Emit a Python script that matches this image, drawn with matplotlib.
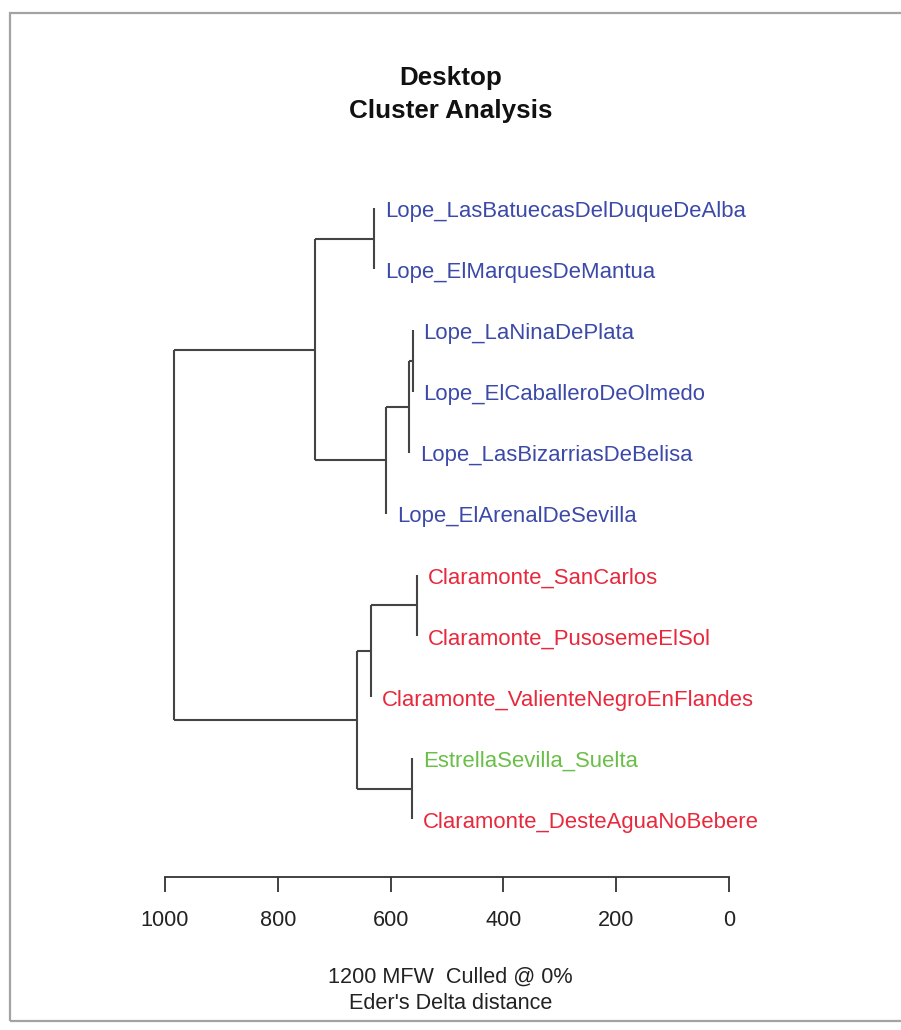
import matplotlib
matplotlib.use("Agg")
import matplotlib.pyplot as plt
from matplotlib.patches import Rectangle

plt.rcParams['font.family'] = ['Liberation Sans', 'DejaVu Sans']

# ---- data -------------------------------------------------------------
leaf_labels = [
    "Lope_LasBatuecasDelDuqueDeAlba",
    "Lope_ElMarquesDeMantua",
    "Lope_LaNinaDePlata",
    "Lope_ElCaballeroDeOlmedo",
    "Lope_LasBizarriasDeBelisa",
    "Lope_ElArenalDeSevilla",
    "Claramonte_SanCarlos",
    "Claramonte_PusosemeElSol",
    "Claramonte_ValienteNegroEnFlandes",
    "EstrellaSevilla_Suelta",
    "Claramonte_DesteAguaNoBebere",
]
leaf_groups = ["Lope"] * 6 + ["Claramonte"] * 3 + ["Estrella", "Claramonte"]
group_colors = {"Lope": "#3b49a8", "Claramonte": "#e8283c", "Estrella": "#6abf48"}

# merges: (child_a, child_b, height); children are ("L", leaf) or ("M", merge)
merge_a = [("L", 0), ("L", 2), ("M", 1), ("M", 2), ("M", 0), ("L", 6), ("M", 5), ("L", 9), ("M", 6), ("M", 4)]
merge_b = [("L", 1), ("L", 3), ("L", 4), ("L", 5), ("M", 3), ("L", 7), ("L", 8), ("L", 10), ("M", 7), ("M", 8)]
merge_height = [629, 561, 567, 608, 734, 554, 635, 562, 660, 984]

x_ticks = [1000, 800, 600, 400, 200, 0]
title_lines = ["Desktop", "Cluster Analysis"]
xlabel_lines = ["1200 MFW  Culled @ 0%", "Eder's Delta distance"]

# ---- figure -------------------------------------------------------------
W, H = 901, 1030
fig = plt.figure(figsize=(W / 100, H / 100), dpi=100)

axis_px = 876.7
ax = fig.add_axes([0, 1 - axis_px / H, 1, axis_px / H])
ax.set_xlim(729 / 0.564, (729 - W) / 0.564)
y0, dy = 208.3, 61.1
ax.set_ylim((axis_px - y0) / dy, -y0 / dy)

line_col = "#444444"

def node_pos(node):
    kind, idx = node
    if kind == "L":
        return None, idx
    return merge_height[idx], merge_y[idx]

merge_y = []
for i in range(len(merge_height)):
    h = merge_height[i]
    pts = [node_pos(c) for c in (merge_a[i], merge_b[i])]
    ys = [p[1] for p in pts]
    merge_y.append(sum(ys) / 2)
    ax.plot([h, h], ys, color=line_col, lw=1.5, solid_capstyle="butt")
    for ch, cy in pts:
        if ch is not None:
            ax.plot([ch, h], [cy, cy], color=line_col, lw=1.5, solid_capstyle="butt")

# leaf labels, at parent height
parent_h = {}
for i in range(len(merge_height)):
    for child in (merge_a[i], merge_b[i]):
        if child[0] == "L":
            parent_h[child[1]] = merge_height[i]

for i, lab in enumerate(leaf_labels):
    ax.annotate(lab, xy=(parent_h[i], i), xytext=(11, -3), textcoords="offset pixels",
                ha="left", va="center", fontsize=15.9,
                color=group_colors[leaf_groups[i]])

for s in ("top", "right", "left"):
    ax.spines[s].set_visible(False)
ax.spines["bottom"].set_bounds(0, 1000)
ax.spines["bottom"].set_color("#333333")
ax.spines["bottom"].set_linewidth(1.3)
ax.set_yticks([])
ax.set_xticks(x_ticks)
ax.set_xticklabels([str(t) for t in x_ticks])
ax.tick_params(axis="x", direction="out", length=10.8, width=1.3, color="#333333",
               pad=13, labelsize=15.6, labelcolor="#222222")
ax.patch.set_alpha(0)

# title
fig.text(0.5, 1 - 85 / H, title_lines[0], ha="center", va="baseline",
         fontsize=18.7, fontweight="bold", color="#111111")
fig.text(0.5, 1 - 117.5 / H, title_lines[1], ha="center", va="baseline",
         fontsize=18.7, fontweight="bold", color="#111111")

# x label lines
fig.text(0.5, 1 - 983 / H, xlabel_lines[0], ha="center", va="baseline",
         fontsize=15.6, color="#222222")
fig.text(0.5, 1 - 1009 / H, xlabel_lines[1], ha="center", va="baseline",
         fontsize=15.6, color="#222222")

# grey frame
fig.patches.append(Rectangle((10 / W, 1 - 1021 / H), (W + 20) / W, (1021 - 13) / H,
                             transform=fig.transFigure, fill=False,
                             edgecolor="#a3a3a3", lw=1.6, clip_on=False))

fig.savefig("out.png", dpi=100)
